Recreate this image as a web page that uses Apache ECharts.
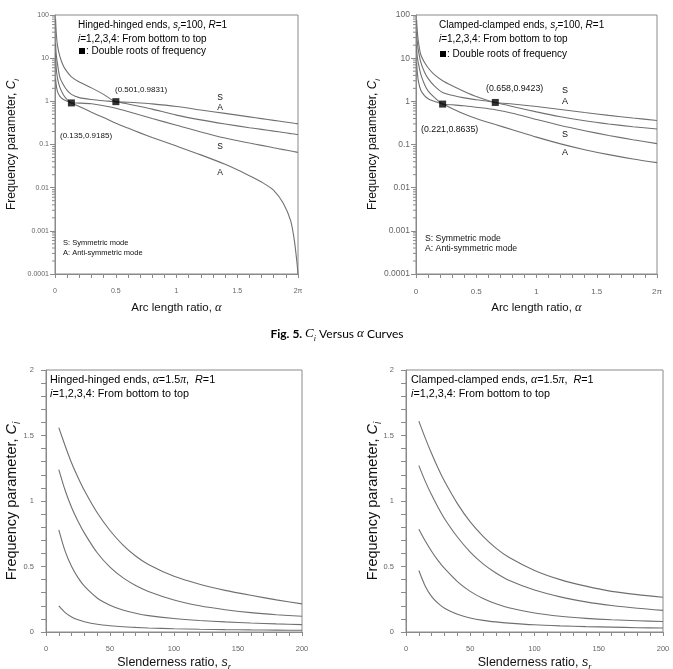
<!DOCTYPE html>
<html>
<head>
<meta charset="utf-8">
<script src="https://cdn.jsdelivr.net/npm/echarts@6/dist/echarts.min.js"></script>
<style>
html,body{margin:0;padding:0;background:#fff;}
#chart{width:673px;height:669px;}
</style>
</head>
<body>
<div id="chart"></div>
<script>
// ---------- DATA ----------
const logTickLabels = ['0.0001', '0.001', '0.01', '0.1', '1', '10', '100'];
const alphaTickLabels = ['0', '0.5', '1', '1.5', '2\u03c0'];
const srTickLabels = ['0', '50', '100', '150', '200'];
const ciTickLabels = ['0', '0.5', '1', '1.5', '2'];

// Hinged-hinged ends, s_r = 100, R = 1
const hhAlpha = [0.005, 0.01, 0.02, 0.04, 0.07, 0.1, 0.135, 0.2, 0.3, 0.4, 0.501, 0.6, 0.7, 0.8, 1.0, 1.2, 1.4, 1.6, 1.7, 1.8, 1.88, 1.94, 1.97, 1.99, 2.0];
const hhC1 = [3.4, 2.4, 1.7, 1.3, 1.1, 1.0, 0.9185, 0.76, 0.56, 0.42, 0.31, 0.24, 0.186, 0.146, 0.092, 0.0575, 0.0347, 0.019, 0.0135, 0.0087, 0.0043, 0.0017, 0.0006, 0.0002, 0.0001];
const hhC2 = [13, 6, 3.5, 2.1, 1.4, 1.1, 0.9185, 0.91, 0.88, 0.79, 0.69, 0.58, 0.48, 0.40, 0.28, 0.195, 0.141, 0.108, 0.0955, 0.0841, 0.0762, 0.0708, 0.0682, 0.0665, 0.0658];
const hhC3 = [22, 12, 7.5, 3.6, 2.4, 1.8, 1.45, 1.22, 1.1, 1.03, 0.9831, 0.87, 0.76, 0.66, 0.48, 0.372, 0.299, 0.245, 0.224, 0.204, 0.19, 0.179, 0.175, 0.171, 0.17];
const hhC4 = [80, 40, 20, 11, 6.5, 4.8, 3.7, 2.8, 2.05, 1.45, 0.9831, 0.955, 0.918, 0.875, 0.759, 0.631, 0.525, 0.437, 0.398, 0.363, 0.337, 0.319, 0.31, 0.305, 0.302];
const hhRootAlpha = [0.135, 0.501];
const hhRootC = [0.9185, 0.9831];

// Clamped-clamped ends, s_r = 100, R = 1
const ccAlpha = [0.005, 0.01, 0.02, 0.04, 0.07, 0.1, 0.15, 0.221, 0.3, 0.4, 0.5, 0.658, 0.8, 1.0, 1.2, 1.4, 1.6, 1.8, 2.0];
const ccC1 = [8, 5, 2.9, 1.8, 1.35, 1.15, 1.0, 0.8635, 0.68, 0.51, 0.40, 0.29, 0.22, 0.148, 0.1035, 0.0759, 0.0582, 0.0462, 0.038];
const ccC2 = [20, 11, 7.5, 4.2, 2.5, 1.75, 1.25, 0.8635, 0.83, 0.79, 0.73, 0.64, 0.531, 0.38, 0.275, 0.209, 0.162, 0.129, 0.105];
const ccC3 = [40, 25, 15, 8, 4.8, 3.4, 2.3, 1.6, 1.38, 1.2, 1.09, 0.9423, 0.76, 0.57, 0.44, 0.355, 0.2985, 0.258, 0.229];
const ccC4 = [76, 45, 24, 12, 8, 6, 4.2, 3.0, 2.3, 1.7, 1.3, 0.9423, 0.871, 0.759, 0.646, 0.55, 0.473, 0.411, 0.36];
const ccRootAlpha = [0.221, 0.658];
const ccRootC = [0.8635, 0.9423];

// Bottom panels: C_i vs slenderness ratio s_r (alpha = 1.5 pi, R = 1)
const sr = [10, 15, 20, 25, 30, 40, 50, 60, 70, 80, 100, 120, 140, 160, 180, 200];
const hhSrC1 = [0.20, 0.148, 0.115, 0.093, 0.078, 0.059, 0.048, 0.04, 0.035, 0.031, 0.025, 0.021, 0.018, 0.016, 0.0145, 0.013];
const hhSrC2 = [0.78, 0.615, 0.50, 0.415, 0.35, 0.26, 0.205, 0.168, 0.143, 0.125, 0.103, 0.088, 0.077, 0.069, 0.062, 0.056];
const hhSrC3 = [1.24, 1.08, 0.95, 0.845, 0.755, 0.605, 0.495, 0.415, 0.355, 0.31, 0.245, 0.2, 0.17, 0.148, 0.132, 0.12];
const hhSrC4 = [1.56, 1.42, 1.29, 1.18, 1.08, 0.91, 0.775, 0.665, 0.58, 0.515, 0.425, 0.365, 0.318, 0.28, 0.245, 0.215];
const ccSrC1 = [0.47, 0.35, 0.27, 0.218, 0.182, 0.135, 0.107, 0.089, 0.077, 0.068, 0.055, 0.047, 0.041, 0.037, 0.033, 0.03];
const ccSrC2 = [0.785, 0.695, 0.615, 0.545, 0.485, 0.385, 0.31, 0.255, 0.215, 0.185, 0.145, 0.12, 0.104, 0.093, 0.086, 0.08];
const ccSrC3 = [1.27, 1.15, 1.045, 0.95, 0.865, 0.725, 0.61, 0.52, 0.45, 0.395, 0.32, 0.268, 0.23, 0.202, 0.181, 0.165];
const ccSrC4 = [1.61, 1.48, 1.36, 1.25, 1.15, 0.98, 0.84, 0.73, 0.64, 0.57, 0.47, 0.40, 0.35, 0.31, 0.285, 0.265];

// ---------- STYLE ----------
const FONT = "'Liberation Sans', Arial, Helvetica, sans-serif";
const SERIF = "'Liberation Serif', 'Times New Roman', serif";
const CAP = "Lato, 'Open Sans', sans-serif";
const AX = '#8a8a8a';
const CURVE = '#707070';
const TICKTXT = '#666';

const chart = echarts.init(document.getElementById('chart'), null, {renderer: 'canvas'});

function zip(xs, ys) { return xs.map((x, i) => [x, ys[i]]); }

const minorLog = [];
for (let e = -4; e < 2; e++) for (let m = 2; m <= 9; m++) minorLog.push([0, m * Math.pow(10, e)]);

function richName(size) {
  return {
    t: {fontSize: size, fontFamily: FONT, color: '#111', lineHeight: size + 6},
    it: {fontSize: size, fontFamily: FONT, fontStyle: 'italic', color: '#111', lineHeight: size + 6},
    sub: {fontSize: Math.round(size * 0.7), fontFamily: FONT, fontStyle: 'italic', color: '#111', lineHeight: Math.round(size * 0.7), verticalAlign: 'bottom'},
    g: {fontSize: size + 1, fontFamily: SERIF, fontStyle: 'italic', color: '#111', lineHeight: size + 6}
  };
}

const grids = [
  {left: 55, top: 15, width: 243, height: 259},
  {left: 416, top: 15, width: 241, height: 259},
  {left: 46, top: 370, width: 256, height: 262},
  {left: 406, top: 370, width: 257, height: 262}
].map(g => Object.assign({show: true, borderColor: AX, borderWidth: 1, backgroundColor: 'transparent',
  containLabel: false, outerBoundsMode: 'none'}, g));

function alphaX(gi, labelSize) {
  return {
    type: 'value', gridIndex: gi, min: 0, max: 2, interval: 0.5,
    axisLine: {show: true, onZero: false, lineStyle: {color: AX}},
    axisTick: {show: true, length: 4, lineStyle: {color: AX}},
    minorTick: {show: true, splitNumber: 5, length: 4, lineStyle: {color: AX}},
    splitLine: {show: false},
    axisLabel: {fontSize: labelSize, color: TICKTXT, fontFamily: FONT, margin: 14,
      formatter: v => alphaTickLabels[Math.round(v / 0.5)]},
    name: '{t|Arc length ratio, }{g|\u03b1}', nameLocation: 'middle', nameGap: 25, nameMoveOverlap: false,
    nameTextStyle: {rich: richName(11.5)}
  };
}
function logY(gi, labelSize, margin, gap) {
  return {
    type: 'log', logBase: 10, gridIndex: gi, min: 0.0001, max: 100, splitNumber: 6,
    axisLine: {show: true, onZero: false, lineStyle: {color: AX}},
    axisTick: {show: true, length: 5, lineStyle: {color: AX}},
    splitLine: {show: false},
    axisLabel: {fontSize: labelSize, color: TICKTXT, fontFamily: FONT, margin: margin,
      formatter: v => logTickLabels[Math.round(Math.log10(v)) + 4]},
    name: '{t|Frequency parameter, }{it|C}{sub|i}', nameLocation: 'middle', nameRotate: 90, nameGap: gap,
    nameMoveOverlap: false,
    nameTextStyle: {rich: richName(12)}
  };
}
function srX(gi) {
  return {
    type: 'value', gridIndex: gi, min: 0, max: 200, interval: 50,
    axisLine: {show: true, onZero: false, lineStyle: {color: AX}},
    axisTick: {show: true, length: 4, lineStyle: {color: AX}},
    minorTick: {show: true, splitNumber: 5, length: 4, lineStyle: {color: AX}},
    splitLine: {show: false},
    axisLabel: {fontSize: 7.5, color: TICKTXT, fontFamily: FONT, margin: 13,
      formatter: v => srTickLabels[Math.round(v / 50)]},
    name: '{t|Slenderness ratio, }{it|s}{sub|r}', nameLocation: 'middle', nameGap: 21, nameMoveOverlap: false,
    nameTextStyle: {rich: richName(12.5)}
  };
}
function linY(gi, margin, gap) {
  return {
    type: 'value', gridIndex: gi, min: 0, max: 2, interval: 0.5,
    axisLine: {show: true, onZero: false, lineStyle: {color: AX}},
    axisTick: {show: true, length: 5, lineStyle: {color: AX}},
    minorTick: {show: true, splitNumber: 5, length: 5, lineStyle: {color: AX}},
    splitLine: {show: false},
    axisLabel: {fontSize: 7.5, color: TICKTXT, fontFamily: FONT, margin: margin,
      formatter: v => ciTickLabels[Math.round(v / 0.5)]},
    name: '{t|Frequency parameter, }{it|C}{sub|i}', nameLocation: 'middle', nameRotate: 90, nameGap: gap,
    nameMoveOverlap: false,
    nameTextStyle: {rich: richName(14.5)}
  };
}

function curve(gi, xs, ys) {
  return {
    type: 'line', xAxisIndex: gi, yAxisIndex: gi, data: zip(xs, ys),
    showSymbol: false, smooth: 0.25, silent: true, sampling: null,
    lineStyle: {color: CURVE, width: 1.1}, z: 2
  };
}
function roots(gi, xs, ys) {
  return {
    type: 'scatter', xAxisIndex: gi, yAxisIndex: gi, data: zip(xs, ys),
    symbol: 'rect', symbolSize: 7, itemStyle: {color: '#000'}, z: 5, silent: true
  };
}
function minorTicks(gi) {
  return {
    type: 'custom', xAxisIndex: gi, yAxisIndex: gi, data: minorLog, silent: true, clip: false,
    renderItem: (params, api) => {
      const p = api.coord([0, api.value(1)]);
      return {type: 'line', shape: {x1: p[0] - 3, y1: p[1], x2: p[0], y2: p[1]},
        style: {stroke: AX, lineWidth: 1}};
    }
  };
}

// ---------- ANNOTATIONS ----------
function txt(x, y, text, rich, align) {
  return {type: 'text', x: x, y: y, z: 100, silent: true,
    style: {text: text, rich: rich, align: align || 'left', verticalAlign: 'middle'}};
}
function plain(x, y, text, size, align) {
  return {type: 'text', x: x, y: y, z: 100, silent: true,
    style: {text: text, font: size + 'px ' + FONT, fill: '#111', align: align || 'left', verticalAlign: 'middle'}};
}
function sq(x, y, s) {
  return {type: 'rect', z: 100, silent: true, shape: {x: x, y: y, width: s, height: s}, style: {fill: '#000'}};
}
const rA = richName(10);
const rB = richName(10.8);

const graphics = [
  txt(78, 25, '{t|Hinged-hinged ends, }{it|s}{sub|r}{t|=100, }{it|R}{t|=1}', rA),
  txt(78, 39, '{it|i}{t|=1,2,3,4: From bottom to top}', rA),
  sq(79, 48, 6), txt(86, 51, '{t|: Double roots of frequency}', rA),
  plain(115, 90, '(0.501,0.9831)', 8),
  plain(60, 136, '(0.135,0.9185)', 8),
  plain(220, 98, 'S', 8.5, 'center'), plain(220, 108, 'A', 8.5, 'center'),
  plain(220, 147, 'S', 8.5, 'center'), plain(220, 173, 'A', 8.5, 'center'),
  plain(63, 243, 'S: Symmetric mode', 7.5), plain(63, 253, 'A: Anti-symmetric mode', 7.5),
  txt(439, 25, '{t|Clamped-clamped ends, }{it|s}{sub|r}{t|=100, }{it|R}{t|=1}', rA),
  txt(439, 39, '{it|i}{t|=1,2,3,4: From bottom to top}', rA),
  sq(440, 51, 6), txt(447, 54, '{t|: Double roots of frequency}', rA),
  plain(486, 89, '(0.658,0.9423)', 8.8),
  plain(421, 130, '(0.221,0.8635)', 8.8),
  plain(565, 91, 'S', 9, 'center'), plain(565, 102, 'A', 9, 'center'),
  plain(565, 135, 'S', 9, 'center'), plain(565, 153, 'A', 9, 'center'),
  plain(425, 239, 'S: Symmetric mode', 8.7), plain(425, 249, 'A: Anti-symmetric mode', 8.7),
  txt(50, 380, '{t|Hinged-hinged ends, }{g|\u03b1}{t|=1.5}{g|\u03c0}{t|,  }{it|R}{t|=1}', rB),
  txt(50, 394, '{it|i}{t|=1,2,3,4: From bottom to top}', rB),
  txt(411, 380, '{t|Clamped-clamped ends, }{g|\u03b1}{t|=1.5}{g|\u03c0}{t|,  }{it|R}{t|=1}', rB),
  txt(411, 394, '{it|i}{t|=1,2,3,4: From bottom to top}', rB),
  txt(337, 334, '{b|Fig. 5. }{c|C}{s|i}{n| Versus }{a|\u03b1}{n| Curves}', {
    b: {fontFamily: CAP, fontWeight: 'bold', fontSize: 12, color: '#111', lineHeight: 18},
    n: {fontFamily: CAP, fontSize: 12, color: '#111', lineHeight: 18},
    c: {fontFamily: SERIF, fontStyle: 'italic', fontSize: 13, color: '#111', lineHeight: 18},
    s: {fontFamily: SERIF, fontStyle: 'italic', fontSize: 8, color: '#111', lineHeight: 8, verticalAlign: 'bottom'},
    a: {fontFamily: SERIF, fontStyle: 'italic', fontSize: 13, color: '#111', lineHeight: 18}
  }, 'center')
];

const option = {
  animation: false,
  backgroundColor: '#fff',
  grid: grids,
  xAxis: [alphaX(0, 7), alphaX(1, 8), srX(2), srX(3)],
  yAxis: [logY(0, 7, 6, 34), logY(1, 8.5, 6, 34), linY(2, 12, 24), linY(3, 12, 23)],
  series: [
    curve(0, hhAlpha, hhC1), curve(0, hhAlpha, hhC2), curve(0, hhAlpha, hhC3), curve(0, hhAlpha, hhC4),
    roots(0, hhRootAlpha, hhRootC), minorTicks(0),
    curve(1, ccAlpha, ccC1), curve(1, ccAlpha, ccC2), curve(1, ccAlpha, ccC3), curve(1, ccAlpha, ccC4),
    roots(1, ccRootAlpha, ccRootC), minorTicks(1),
    curve(2, sr, hhSrC1), curve(2, sr, hhSrC2), curve(2, sr, hhSrC3), curve(2, sr, hhSrC4),
    curve(3, sr, ccSrC1), curve(3, sr, ccSrC2), curve(3, sr, ccSrC3), curve(3, sr, ccSrC4)
  ],
  graphic: graphics
};
chart.setOption(option);
</script>
</body>
</html>
